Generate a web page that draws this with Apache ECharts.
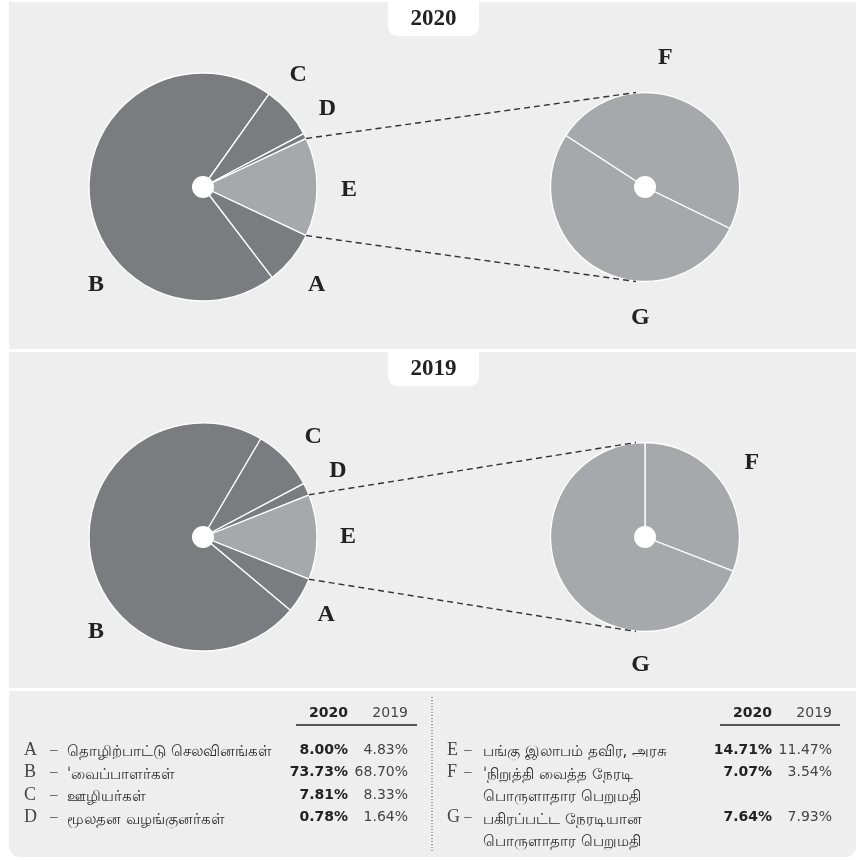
<!DOCTYPE html>
<html>
<head>
<meta charset="utf-8">
<script src="https://cdn.jsdelivr.net/npm/echarts@6/dist/echarts.min.js"></script>
<style>
html,body{margin:0;padding:0;background:#ffffff;}
#main{width:866px;height:860px;}
</style>
</head>
<body>
<div id="main"></div>
<script>
// ---------- DATA ----------
const years = ['2020', '2019'];
const letters = ['A', 'B', 'C', 'D', 'E', 'F', 'G'];
const names = [
  'தொழிற்பாட்டு செலவினங்கள்',
  'ˈவைப்பாளர்கள்',
  'ஊழியர்கள்',
  'மூலதன வழங்குனர்கள்',
  'பங்கு இலாபம் தவிர, அரசு',
  'ˈநிறுத்தி வைத்த நேரடி\nபொருளாதார பெறுமதி',
  'பகிரப்பட்ட நேரடியான\nபொருளாதார பெறுமதி'
];
const values2020 = [8.00, 73.73, 7.81, 0.78, 14.71, 7.07, 7.64];
const values2019 = [4.83, 68.70, 8.33, 1.64, 11.47, 3.54, 7.93];
const valueSets = [values2020, values2019];

// ---------- STYLE / LAYOUT ----------
const darkGray = '#7b7c80';
const lightGray = '#a7a8ab';
const panelFill = '#eeeeee';
const serif = '"Liberation Serif", "DejaVu Serif", serif';
const sans = '"DejaVu Sans", "Noto Sans", sans-serif';
const mainCx = 203, sideCx = 645;
const R1 = 114, R2 = 94.5, hole = 11;
const pieCy = [187, 537];
const sideStart = [147, 90];
// label placement [angleDeg, radius] per letter (A..E main, F,G side)
const labelPolar = [
  {A: [-40.7, 150], B: [-137.5, 145], C: [49.7, 147], D: [32.2, 147], E: [-1, 146], F: [81, 130.5], G: [-92, 131]},
  {A: [-32.4, 146], B: [-138.4, 143], C: [42.3, 149], D: [26, 150], E: [0, 145], F: [34.7, 130], G: [-92, 128]}
];

const chart = echarts.init(document.getElementById('main'), null, {renderer: 'canvas', width: 866, height: 860});
const series = [];
const graphics = [];

// panels
graphics.push({type: 'rect', z: 0, shape: {x: 9, y: 2, width: 847, height: 347}, style: {fill: panelFill}});
graphics.push({type: 'rect', z: 0, shape: {x: 9, y: 352, width: 847, height: 336}, style: {fill: panelFill}});
graphics.push({type: 'rect', z: 0, shape: {x: 9, y: 691, width: 847, height: 166, r: [0, 0, 11, 11]}, style: {fill: panelFill}});

function polar(cx, cy, ang, r) {
  const a = ang * Math.PI / 180;
  return [cx + r * Math.cos(a), cy - r * Math.sin(a)];
}

years.forEach((yr, i) => {
  const vals = valueSets[i];
  const cy = pieCy[i];
  const tabY = i === 0 ? 2 : 352;
  // title tab
  graphics.push({type: 'rect', z: 1, shape: {x: 388, y: tabY, width: 91, height: 34, r: [0, 0, 9, 9]}, style: {fill: '#ffffff'}});
  graphics.push({type: 'text', z: 2, x: 433.5, y: tabY + 17.5, style: {text: yr, font: 'bold 23px ' + serif, fill: '#222', align: 'center', verticalAlign: 'middle'}});

  // main pie: E, A, B, C, D
  const order = [4, 0, 1, 2, 3];
  let mainTotal = 0;
  order.forEach(k => mainTotal += vals[k]);
  const eAngle = vals[4] / mainTotal * 360;
  series.push({
    type: 'pie', center: [mainCx, cy], radius: [0, R1], startAngle: eAngle / 2, clockwise: true,
    silent: true, animation: false, emphasis: {disabled: true},
    label: {show: false}, labelLine: {show: false},
    itemStyle: {borderColor: '#ffffff', borderWidth: 1.3},
    data: order.map(k => ({name: letters[k], value: vals[k], itemStyle: {color: k === 4 ? lightGray : darkGray}}))
  });
  series.push({
    type: 'pie', center: [mainCx, cy], radius: [0, hole], silent: true, animation: false, emphasis: {disabled: true},
    label: {show: false}, labelLine: {show: false}, itemStyle: {color: '#ffffff'}, data: [{value: 1, name: ''}]
  });
  // side pie: F, G
  series.push({
    type: 'pie', center: [sideCx, cy], radius: [0, R2], startAngle: sideStart[i], clockwise: true,
    silent: true, animation: false, emphasis: {disabled: true},
    label: {show: false}, labelLine: {show: false},
    itemStyle: {borderColor: '#ffffff', borderWidth: 1.3, color: lightGray},
    data: [5, 6].map(k => ({name: letters[k], value: vals[k]}))
  });
  series.push({
    type: 'pie', center: [sideCx, cy], radius: [0, hole], silent: true, animation: false, emphasis: {disabled: true},
    label: {show: false}, labelLine: {show: false}, itemStyle: {color: '#ffffff'}, data: [{value: 1, name: ''}]
  });

  // connector dashed lines
  const pTop = polar(mainCx, cy, eAngle / 2, R1);
  const pBot = polar(mainCx, cy, -eAngle / 2, R1);
  [[pTop, [sideCx - 9, cy - R2]], [pBot, [sideCx - 9, cy + R2]]].forEach(([a, b]) => {
    graphics.push({type: 'line', z: 5, shape: {x1: a[0], y1: a[1], x2: b[0], y2: b[1]},
      style: {stroke: '#333', lineWidth: 1.4, lineDash: [6, 4]}});
  });

  // slice letter labels
  letters.forEach((L, k) => {
    const pl = labelPolar[i][L];
    const c = k < 5 ? mainCx : sideCx;
    const p = polar(c, cy, pl[0], pl[1]);
    graphics.push({type: 'text', z: 6, x: p[0], y: p[1], style: {text: L, font: 'bold 24px ' + serif, fill: '#222', align: 'center', verticalAlign: 'middle'}});
  });
});

// ---------- TABLE ----------
const tables = [
  {items: [0, 1, 2, 3], letterX: 24, dashX: 50, nameX: 67, v1X: 348, v2X: 408, lineX1: 296, lineX2: 417},
  {items: [4, 5, 6], letterX: 447, dashX: 464, nameX: 483, v1X: 772, v2X: 832, lineX1: 720, lineX2: 840}
];
const headerY = 713, lineY = 725, rowY0 = 750, rowStep = 22.5;
tables.forEach(t => {
  graphics.push({type: 'text', z: 6, x: t.v1X, y: headerY, style: {text: years[0], font: 'bold 14px ' + sans, fill: '#222', align: 'right', verticalAlign: 'middle'}});
  graphics.push({type: 'text', z: 6, x: t.v2X, y: headerY, style: {text: years[1], font: '14px ' + sans, fill: '#444', align: 'right', verticalAlign: 'middle'}});
  graphics.push({type: 'line', z: 6, shape: {x1: t.lineX1, y1: lineY, x2: t.lineX2, y2: lineY}, style: {stroke: '#222', lineWidth: 1.5}});
  let row = 0;
  t.items.forEach(k => {
    const y = rowY0 + row * rowStep;
    graphics.push({type: 'text', z: 6, x: t.letterX, y: y, style: {text: letters[k], font: '18px ' + serif, fill: '#444', align: 'left', verticalAlign: 'middle'}});
    graphics.push({type: 'text', z: 6, x: t.dashX, y: y, style: {text: '–', font: '15px ' + serif, fill: '#444', align: 'left', verticalAlign: 'middle'}});
    graphics.push({type: 'text', z: 6, x: t.nameX, y: y - 9, style: {text: names[k], font: '15px ' + sans, fill: '#2a2a2a', align: 'left', verticalAlign: 'top', lineHeight: 22.5}});
    graphics.push({type: 'text', z: 6, x: t.v1X, y: y, style: {text: values2020[k].toFixed(2) + '%', font: 'bold 14px ' + sans, fill: '#222', align: 'right', verticalAlign: 'middle'}});
    graphics.push({type: 'text', z: 6, x: t.v2X, y: y, style: {text: values2019[k].toFixed(2) + '%', font: '14px ' + sans, fill: '#444', align: 'right', verticalAlign: 'middle'}});
    row += names[k].indexOf('\n') >= 0 ? 2 : 1;
  });
});
// dotted divider
graphics.push({type: 'line', z: 6, shape: {x1: 432, y1: 697, x2: 432, y2: 851}, style: {stroke: '#555', lineWidth: 1, lineDash: [1, 2]}});

chart.setOption({
  animation: false,
  backgroundColor: '#ffffff',
  series: series,
  graphic: {elements: graphics}
});
</script>
</body>
</html>
